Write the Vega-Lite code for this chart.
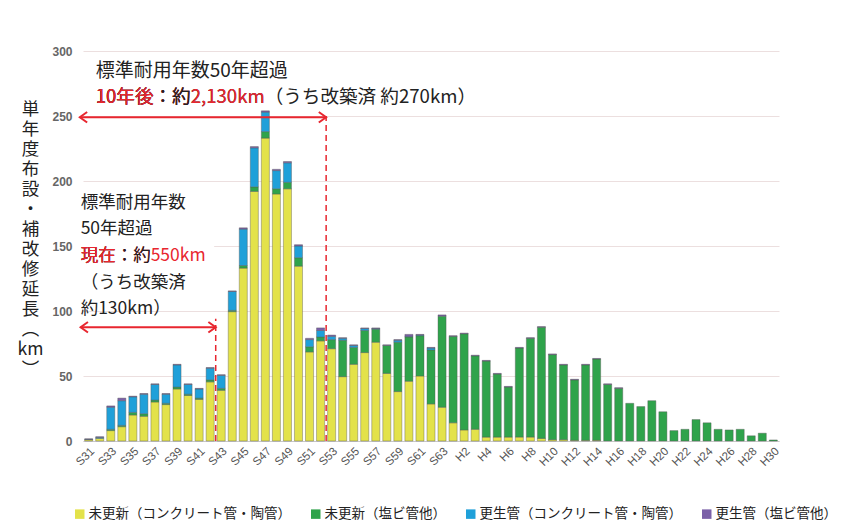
{
  "$schema": "https://vega.github.io/schema/vega-lite/v6.json",
  "width": 696,
  "height": 390,
  "autosize": {"type": "none"},
  "padding": {"left": 83, "top": 51, "right": 63, "bottom": 85},
  "background": "white",
  "config": {"view": {"stroke": null}, "font": "Noto Sans CJK JP"},
  "datasets": {
    "pipes": [
      {"year": "S31", "k1": 1, "k2": 0, "k3": 0.3, "k4": 0.4},
      {"year": "S32", "k1": 2, "k2": 0, "k3": 0.8, "k4": 0.5},
      {"year": "S33", "k1": 8, "k2": 1, "k3": 17, "k4": 1},
      {"year": "S34", "k1": 11, "k2": 1, "k3": 19, "k4": 2},
      {"year": "S35", "k1": 20, "k2": 2, "k3": 12, "k4": 0.5},
      {"year": "S36", "k1": 19, "k2": 2, "k3": 15, "k4": 0.5},
      {"year": "S37", "k1": 30, "k2": 1.5, "k3": 12, "k4": 0.5},
      {"year": "S38", "k1": 28, "k2": 1, "k3": 7, "k4": 0.5},
      {"year": "S39", "k1": 40, "k2": 1.5, "k3": 17, "k4": 0.5},
      {"year": "S40", "k1": 35, "k2": 1, "k3": 7.5, "k4": 0.5},
      {"year": "S41", "k1": 32, "k2": 1, "k3": 7, "k4": 0.5},
      {"year": "S42", "k1": 45.5, "k2": 1.5, "k3": 9, "k4": 0.5},
      {"year": "S43", "k1": 39, "k2": 1.5, "k3": 10, "k4": 0.5},
      {"year": "S44", "k1": 99.5, "k2": 1, "k3": 14.5, "k4": 0.5},
      {"year": "S45", "k1": 133, "k2": 2, "k3": 28, "k4": 1},
      {"year": "S46", "k1": 192, "k2": 3.5, "k3": 30, "k4": 1},
      {"year": "S47", "k1": 233, "k2": 5, "k3": 15, "k4": 1},
      {"year": "S48", "k1": 190, "k2": 4, "k3": 14, "k4": 1},
      {"year": "S49", "k1": 194, "k2": 5, "k3": 15, "k4": 1},
      {"year": "S50", "k1": 134.5, "k2": 6.5, "k3": 9, "k4": 1},
      {"year": "S51", "k1": 68.5, "k2": 4, "k3": 5.5, "k4": 1},
      {"year": "S52", "k1": 77, "k2": 3, "k3": 5, "k4": 2},
      {"year": "S53", "k1": 71, "k2": 7, "k3": 2.5, "k4": 1},
      {"year": "S54", "k1": 49.5, "k2": 28, "k3": 1.5, "k4": 0.5},
      {"year": "S55", "k1": 59, "k2": 13, "k3": 1.5, "k4": 0.5},
      {"year": "S56", "k1": 68, "k2": 17, "k3": 1.5, "k4": 0.5},
      {"year": "S57", "k1": 76, "k2": 10, "k3": 0.5, "k4": 0.5},
      {"year": "S58", "k1": 52, "k2": 21.5, "k3": 0, "k4": 0.5},
      {"year": "S59", "k1": 38, "k2": 38, "k3": 1.5, "k4": 0.5},
      {"year": "S60", "k1": 46, "k2": 34, "k3": 0.5, "k4": 1.5},
      {"year": "S61", "k1": 50, "k2": 31, "k3": 0.5, "k4": 0.5},
      {"year": "S62", "k1": 28.5, "k2": 41.5, "k3": 1.5, "k4": 0.5},
      {"year": "S63", "k1": 26, "k2": 70, "k3": 0, "k4": 1},
      {"year": "H1", "k1": 14, "k2": 66.5, "k3": 0, "k4": 0.5},
      {"year": "H2", "k1": 8.5, "k2": 74, "k3": 0, "k4": 0.5},
      {"year": "H3", "k1": 9, "k2": 56.5, "k3": 0, "k4": 0.5},
      {"year": "H4", "k1": 3, "k2": 58.5, "k3": 0, "k4": 0.5},
      {"year": "H5", "k1": 3, "k2": 48.5, "k3": 0, "k4": 0.5},
      {"year": "H6", "k1": 3, "k2": 38.5, "k3": 0, "k4": 0.5},
      {"year": "H7", "k1": 3, "k2": 68.5, "k3": 0, "k4": 0.5},
      {"year": "H8", "k1": 3, "k2": 76, "k3": 0, "k4": 0.5},
      {"year": "H9", "k1": 2, "k2": 85.5, "k3": 0, "k4": 0.5},
      {"year": "H10", "k1": 1, "k2": 65.5, "k3": 0, "k4": 0.5},
      {"year": "H11", "k1": 1, "k2": 57.5, "k3": 0, "k4": 0.5},
      {"year": "H12", "k1": 0.5, "k2": 46.5, "k3": 0, "k4": 0.5},
      {"year": "H13", "k1": 0.5, "k2": 58, "k3": 0, "k4": 0.5},
      {"year": "H14", "k1": 0.5, "k2": 62.5, "k3": 0, "k4": 0.5},
      {"year": "H15", "k1": 0, "k2": 43.5, "k3": 0, "k4": 0.5},
      {"year": "H16", "k1": 0, "k2": 40.5, "k3": 0, "k4": 0.5},
      {"year": "H17", "k1": 0, "k2": 29, "k3": 0, "k4": 0},
      {"year": "H18", "k1": 0, "k2": 26.5, "k3": 0, "k4": 0},
      {"year": "H19", "k1": 0, "k2": 31, "k3": 0, "k4": 0},
      {"year": "H20", "k1": 0, "k2": 22.5, "k3": 0, "k4": 0},
      {"year": "H21", "k1": 0, "k2": 8, "k3": 0, "k4": 0},
      {"year": "H22", "k1": 0, "k2": 9, "k3": 0, "k4": 0},
      {"year": "H23", "k1": 0, "k2": 16.5, "k3": 0, "k4": 0},
      {"year": "H24", "k1": 0, "k2": 14, "k3": 0, "k4": 0},
      {"year": "H25", "k1": 0, "k2": 9, "k3": 0, "k4": 0},
      {"year": "H26", "k1": 0, "k2": 8.5, "k3": 0, "k4": 0},
      {"year": "H27", "k1": 0, "k2": 9, "k3": 0, "k4": 0},
      {"year": "H28", "k1": 0, "k2": 4, "k3": 0, "k4": 0},
      {"year": "H29", "k1": 0, "k2": 6, "k3": 0, "k4": 0},
      {"year": "H30", "k1": 0, "k2": 0.8, "k3": 0, "k4": 0}
    ],
    "one": [{}]
  },
  "layer": [
    {
      "data": {"name": "pipes"},
      "transform": [
        {"fold": ["k1", "k2", "k3", "k4"], "as": ["kind", "km"]},
        {"filter": "datum.km > 0"}
      ],
      "mark": {"type": "bar", "stroke": "#555", "strokeWidth": 0.4},
      "encoding": {
        "x": {
          "field": "year", "type": "nominal", "sort": null,
          "scale": {
            "domain": ["S31","S32","S33","S34","S35","S36","S37","S38","S39","S40","S41","S42","S43","S44","S45","S46","S47","S48","S49","S50","S51","S52","S53","S54","S55","S56","S57","S58","S59","S60","S61","S62","S63","H1","H2","H3","H4","H5","H6","H7","H8","H9","H10","H11","H12","H13","H14","H15","H16","H17","H18","H19","H20","H21","H22","H23","H24","H25","H26","H27","H28","H29","H30"],
            "paddingInner": 0.27, "paddingOuter": 0.15
          },
          "axis": {
            "title": null,
            "values": ["S31","S33","S35","S37","S39","S41","S43","S45","S47","S49","S51","S53","S55","S57","S59","S61","S63","H2","H4","H6","H8","H10","H12","H14","H16","H18","H20","H22","H24","H26","H28","H30"],
            "labelAngle": -45, "labelFont": "Liberation Sans", "labelFontSize": 11.5, "labelColor": "#555",
            "labelPadding": 4, "ticks": false, "domain": true, "domainColor": "#c8c8c8", "grid": false
          }
        },
        "y": {
          "field": "km", "type": "quantitative", "stack": "zero",
          "scale": {"domain": [0, 300], "nice": false},
          "axis": {
            "values": [0, 50, 100, 150, 200, 250, 300],
            "grid": true, "gridColor": "#ecdfdf", "gridWidth": 1,
            "domain": false, "ticks": false, "labelPadding": 11,
            "labelFont": "Liberation Sans", "labelFontSize": 12, "labelFontWeight": "bold", "labelColor": "#666",
            "title": ["単","年","度","布","設","・","補","改","修","延","長","︵","km","︶"],
            "titleAngle": 0, "titleX": -53, "titleY": 49, "titleBaseline": "top", "titleAlign": "center",
            "titleFont": "Noto Sans CJK JP", "titleFontSize": 17.5, "titleFontWeight": "normal",
            "titleLineHeight": 20, "titleColor": "#222"
          }
        },
        "color": {
          "field": "kind", "type": "nominal",
          "scale": {"domain": ["k1", "k2", "k3", "k4"], "range": ["#e3e24a", "#2fa34b", "#1fa0d9", "#7b60a8"]},
          "legend": {
            "title": null, "orient": "none", "legendX": -10, "legendY": 456,
            "direction": "horizontal", "columns": 4, "columnPadding": 18,
            "symbolType": "square", "symbolSize": 90, "symbolStrokeWidth": 0,
            "labelFont": "Noto Sans CJK JP", "labelFontSize": 13.5, "labelColor": "#222", "labelLimit": 400, "labelOffset": 2,
            "labelExpr": "datum.value == 'k1' ? '未更新（コンクリート管・陶管）' : datum.value == 'k2' ? '未更新（塩ビ管他）' : datum.value == 'k3' ? '更生管（コンクリート管・陶管）' : '更生管（塩ビ管他）'"
          }
        },
        "order": {"field": "kind", "sort": "ascending"}
      }
    },
    {
      "data": {"name": "one"},
      "mark": {"type": "rect", "color": "white"},
      "encoding": {
        "x": {"datum": "S31", "bandPosition": -0.5},
        "x2": {"datum": "S42", "bandPosition": 1},
        "y": {"datum": 104},
        "y2": {"datum": 193}
      }
    },
    {
      "data": {"name": "one"},
      "mark": {"type": "rule", "color": "#e8262f", "strokeWidth": 1.5, "strokeDash": [6, 4]},
      "encoding": {"x": {"datum": "S53", "bandPosition": -0.18}, "y": {"datum": 0}, "y2": {"datum": 250}}
    },
    {
      "data": {"name": "one"},
      "mark": {"type": "rule", "color": "#e8262f", "strokeWidth": 1.5, "strokeDash": [6, 4]},
      "encoding": {"x": {"datum": "S43", "bandPosition": -0.18}, "y": {"datum": 0}, "y2": {"datum": 94}}
    },
    {
      "data": {"name": "one"},
      "mark": {"type": "rule", "color": "#e8262f", "strokeWidth": 2},
      "encoding": {"x": {"datum": "S31", "bandPosition": -0.6}, "x2": {"datum": "S53", "bandPosition": -0.18}, "y": {"datum": 249}}
    },
    {
      "data": {"name": "one"},
      "mark": {"type": "rule", "color": "#e8262f", "strokeWidth": 2},
      "encoding": {"x": {"datum": "S31", "bandPosition": -0.5}, "x2": {"datum": "S43", "bandPosition": -0.18}, "y": {"datum": 87.5}}
    },
    {
      "data": {"name": "one"},
      "mark": {"type": "point", "shape": "M1.4,-1L0,0L1.4,1", "filled": false, "color": "#e8262f", "strokeWidth": 2, "size": 110, "opacity": 1},
      "encoding": {"x": {"datum": "S31", "bandPosition": -0.6}, "y": {"datum": 249}}
    },
    {
      "data": {"name": "one"},
      "mark": {"type": "point", "shape": "M1.4,-1L0,0L1.4,1", "filled": false, "color": "#e8262f", "strokeWidth": 2, "size": 110, "opacity": 1},
      "encoding": {"x": {"datum": "S31", "bandPosition": -0.5}, "y": {"datum": 87.5}}
    },
    {
      "data": {"name": "one"},
      "mark": {"type": "point", "shape": "M-1.4,-1L0,0L-1.4,1", "filled": false, "color": "#e8262f", "strokeWidth": 2, "size": 110, "opacity": 1},
      "encoding": {"x": {"datum": "S53", "bandPosition": -0.18}, "y": {"datum": 249}}
    },
    {
      "data": {"name": "one"},
      "mark": {"type": "point", "shape": "M-1.4,-1L0,0L-1.4,1", "filled": false, "color": "#e8262f", "strokeWidth": 2, "size": 110, "opacity": 1},
      "encoding": {"x": {"datum": "S43", "bandPosition": -0.18}, "y": {"datum": 87.5}}
    },
    {
      "data": {"name": "one"},
      "mark": {"type": "text", "text": "標準耐用年数50年超過", "align": "left", "baseline": "middle", "font": "Noto Sans CJK JP", "fontSize": 19, "color": "#222", "dx": 0},
      "encoding": {"x": {"datum": "S32", "bandPosition": 0}, "y": {"datum": 284.6}}
    },
    {
      "data": {"name": "one"},
      "mark": {"type": "text", "text": "10年後：約2,130km（うち改築済 約270km）", "align": "left", "baseline": "middle", "font": "Noto Sans CJK JP", "fontSize": 18.6, "color": "#222", "dx": 0},
      "encoding": {"x": {"datum": "S32", "bandPosition": 0}, "y": {"datum": 265.0}}
    },
    {
      "data": {"name": "one"},
      "mark": {"type": "text", "text": "10年後：約2,130km", "align": "left", "baseline": "middle", "font": "Noto Sans CJK JP", "fontSize": 18.6, "color": "#e8262f", "dx": 0},
      "encoding": {"x": {"datum": "S32", "bandPosition": 0}, "y": {"datum": 265.0}}
    },
    {
      "data": {"name": "one"},
      "mark": {"type": "text", "text": "10年後：約", "align": "left", "baseline": "middle", "font": "Noto Sans CJK JP", "fontSize": 18.6, "color": "#222", "dx": 0},
      "encoding": {"x": {"datum": "S32", "bandPosition": 0}, "y": {"datum": 265.0}}
    },
    {
      "data": {"name": "one"},
      "mark": {"type": "text", "text": "10年後", "align": "left", "baseline": "middle", "font": "Noto Sans CJK JP", "fontSize": 18.6, "color": "#e8262f", "dx": 0},
      "encoding": {"x": {"datum": "S32", "bandPosition": 0}, "y": {"datum": 265.0}}
    },
    {
      "data": {"name": "one"},
      "mark": {"type": "text", "text": "標準耐用年数", "align": "left", "baseline": "middle", "font": "Noto Sans CJK JP", "fontSize": 17.5, "color": "#222", "dx": -4},
      "encoding": {"x": {"datum": "S31", "bandPosition": 0}, "y": {"datum": 183.1}}
    },
    {
      "data": {"name": "one"},
      "mark": {"type": "text", "text": "50年超過", "align": "left", "baseline": "middle", "font": "Noto Sans CJK JP", "fontSize": 17.5, "color": "#222", "dx": -4},
      "encoding": {"x": {"datum": "S31", "bandPosition": 0}, "y": {"datum": 162.7}}
    },
    {
      "data": {"name": "one"},
      "mark": {"type": "text", "text": "現在：約550km", "align": "left", "baseline": "middle", "font": "Noto Sans CJK JP", "fontSize": 17.5, "color": "#e8262f", "dx": -4},
      "encoding": {"x": {"datum": "S31", "bandPosition": 0}, "y": {"datum": 142.3}}
    },
    {
      "data": {"name": "one"},
      "mark": {"type": "text", "text": "現在：約", "align": "left", "baseline": "middle", "font": "Noto Sans CJK JP", "fontSize": 17.5, "color": "#222", "dx": -4},
      "encoding": {"x": {"datum": "S31", "bandPosition": 0}, "y": {"datum": 142.3}}
    },
    {
      "data": {"name": "one"},
      "mark": {"type": "text", "text": "現在", "align": "left", "baseline": "middle", "font": "Noto Sans CJK JP", "fontSize": 17.5, "color": "#e8262f", "dx": -4},
      "encoding": {"x": {"datum": "S31", "bandPosition": 0}, "y": {"datum": 142.3}}
    },
    {
      "data": {"name": "one"},
      "mark": {"type": "text", "text": "（うち改築済", "align": "left", "baseline": "middle", "font": "Noto Sans CJK JP", "fontSize": 17.5, "color": "#222", "dx": -4},
      "encoding": {"x": {"datum": "S31", "bandPosition": 0}, "y": {"datum": 121.9}}
    },
    {
      "data": {"name": "one"},
      "mark": {"type": "text", "text": "約130km）", "align": "left", "baseline": "middle", "font": "Noto Sans CJK JP", "fontSize": 17.5, "color": "#222", "dx": -4},
      "encoding": {"x": {"datum": "S31", "bandPosition": 0}, "y": {"datum": 101.5}}
    }
  ]
}
